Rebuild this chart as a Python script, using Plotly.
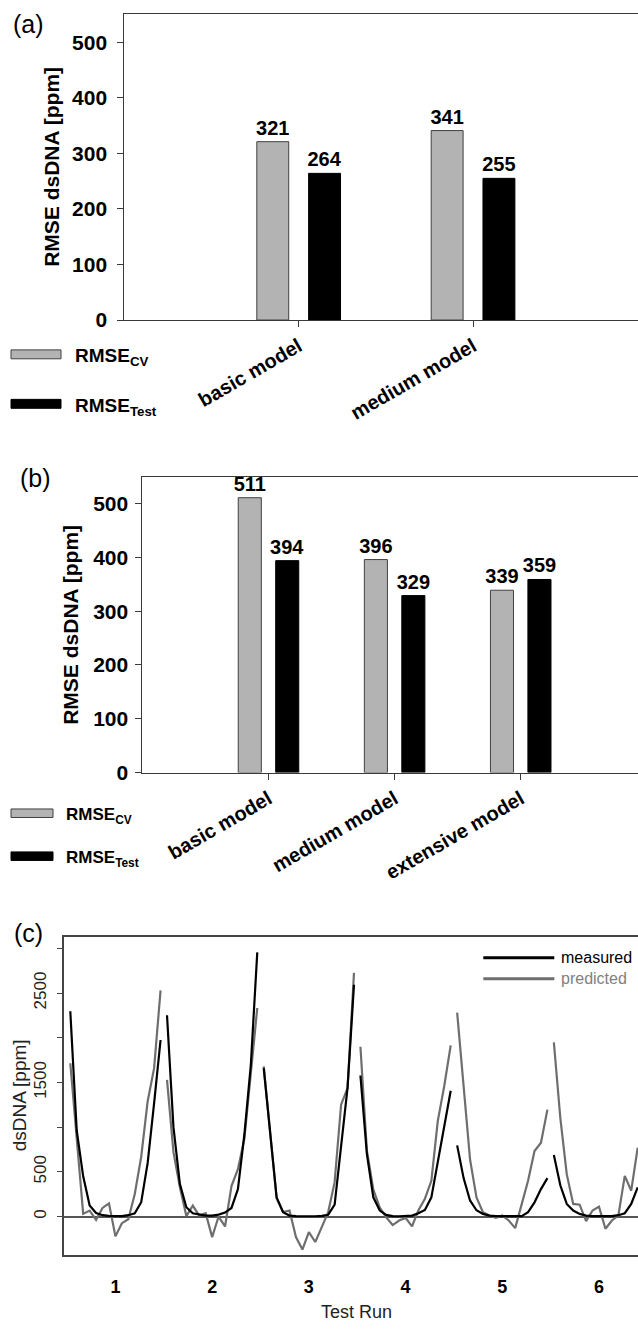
import plotly.graph_objects as go

W, H = 638, 1332
FONT = "Liberation Sans, Arial, sans-serif"

# ---------------- data ----------------
# Panel (a)
a_models = ["basic model", "medium model"]
a_cv = [321, 341]
a_test = [264, 255]

# Panel (b)
b_models = ["basic model", "medium model", "extensive model"]
b_cv = [511, 396, 339]
b_test = [394, 329, 359]

# Panel (c)  (15 samples per test run; run 6 cropped at the right edge)
run_labels = ["1", "2", "3", "4", "5", "6"]
points_per_run = 15
measured_runs = [
    [2296, 960, 450, 125, 40, 15, 8, 5, 5, 15, 37, 160, 600, 1270, 1975],
    [2252, 1000, 363, 104, 37, 22, 11, 11, 22, 44, 96, 307, 918, 1696, 2956],
    [1660, 950, 215, 48, 11, 5, 3, 3, 3, 8, 20, 133, 780, 1440, 2593],
    [1578, 700, 215, 67, 18, 5, 3, 3, 10, 37, 74, 215, 600, 1000, 1407],
    [796, 430, 180, 70, 30, 10, 5, 3, 3, 3, 5, 50, 159, 307, 430],
    [689, 350, 141, 67, 30, 11, 5, 3, 3, 5, 15, 37, 141, 326],
]
predicted_runs = [
    [1715, 911, 30, 67, -37, 96, 148, -222, -74, -30, 252, 670, 1290, 1660, 2530],
    [1530, 720, 326, 5, 122, 11, 37, -230, 0, -111, 340, 530, 870, 1570, 2333],
    [1680, 960, 203, 50, 67, -230, -370, -174, -285, -118, 50, 385, 1252, 1437, 2726],
    [1900, 740, 300, 100, -10, -95, -45, -15, -111, 70, 200, 400, 1070, 1460, 1915],
    [2281, 1450, 640, 215, 48, 11, -15, 11, -44, -130, 150, 400, 733, 826, 1196],
    [1948, 1104, 474, 141, 133, -52, 67, 111, -137, -44, 11, 455, 289, 770],
]
c_labelled_ticks = [0, 500, 1500, 2500]
c_unlabelled_ticks = [1000, 2000, 3000]

CV_COLOR = "#b3b3b3"
TEST_COLOR = "#000000"
AX = "#3a3a3a"


def px(x):
    return x / W


def py(y):
    return 1 - y / H


fig = go.Figure()

BAR_W = 0.183
OFF_CV = -0.240
OFF_TEST = 0.057


def add_bars(cats, vals, color, lc, offset, xa, ya):
    fig.add_trace(go.Bar(
        x=cats, y=vals, width=BAR_W, offset=offset,
        marker=dict(color=color, line=dict(color=lc, width=1)),
        text=[str(v) for v in vals], textposition="outside",
        textfont=dict(family=FONT, size=20, color="black", weight="bold"),
        constraintext="none", cliponaxis=False,
        xaxis=xa, yaxis=ya, showlegend=False, hoverinfo="skip"))


add_bars(a_models, a_cv, CV_COLOR, "#404040", OFF_CV, "x", "y")
add_bars(a_models, a_test, TEST_COLOR, "#000000", OFF_TEST, "x", "y")
add_bars(b_models, b_cv, CV_COLOR, "#404040", OFF_CV, "x2", "y2")
add_bars(b_models, b_test, TEST_COLOR, "#000000", OFF_TEST, "x2", "y2")

# panel (c) lines
cx, cm, cp = [], [], []
for r, (m, p) in enumerate(zip(measured_runs, predicted_runs)):
    for j, (mv, pv) in enumerate(zip(m, p)):
        cx.append(r * points_per_run + j + 1)
        cm.append(mv)
        cp.append(pv)
    cx.append(None)
    cm.append(None)
    cp.append(None)

fig.add_trace(go.Scatter(x=cx, y=cp, mode="lines", line=dict(color="#6e6e6e", width=2.2),
                         connectgaps=False, xaxis="x3", yaxis="y3", showlegend=False))
fig.add_trace(go.Scatter(x=cx, y=cm, mode="lines", line=dict(color="#000000", width=2.2),
                         connectgaps=False, xaxis="x3", yaxis="y3", showlegend=False))

c_xticks = [r * points_per_run + 8 for r in range(len(run_labels))]

bold20 = dict(family=FONT, size=20, color="black", weight="bold")
bold21 = dict(family=FONT, size=21, color="black", weight="bold")

fig.update_layout(
    width=W, height=H, autosize=False,
    margin=dict(l=0, r=0, t=0, b=0),
    paper_bgcolor="white", plot_bgcolor="white",
    barmode="overlay",
    font=dict(family=FONT, color="black"),
    xaxis=dict(domain=[px(124.3), 1], type="category", range=[-1, 1.946],
               showline=True, linecolor=AX, linewidth=1, mirror=True,
               ticks="outside", ticklen=6, tickcolor=AX, tickangle=-30,
               tickfont=bold20, showgrid=False, zeroline=False, anchor="y"),
    yaxis=dict(domain=[py(322.7), py(14)], range=[0, 551],
               showline=True, linecolor=AX, linewidth=1,
               ticks="outside", ticklen=6, tickcolor=AX,
               tickvals=[0, 100, 200, 300, 400, 500], tickfont=bold21,
               ticklabelstandoff=6,
               showgrid=False, zeroline=False, anchor="x"),
    xaxis2=dict(domain=[px(142.4), 1], type="category", range=[-1, 2.930],
                showline=True, linecolor=AX, linewidth=1, mirror=True,
                ticks="outside", ticklen=6, tickcolor=AX, tickangle=-30,
                tickfont=bold20, showgrid=False, zeroline=False, anchor="y2"),
    yaxis2=dict(domain=[py(779), py(480.7)], range=[0, 550],
                showline=True, linecolor=AX, linewidth=1,
                ticks="outside", ticklen=6, tickcolor=AX,
                tickvals=[0, 100, 200, 300, 400, 500], tickfont=bold21,
                ticklabelstandoff=3,
                showgrid=False, zeroline=False, anchor="x2"),
    xaxis3=dict(domain=[px(64.3), 1], range=[0.07, 89.05],
                showline=True, linecolor="#444444", linewidth=1.5, mirror=True,
                ticks="", tickvals=c_xticks, ticktext=run_labels,
                tickfont=dict(family=FONT, size=18, color="black", weight="bold"),
                ticklabelstandoff=14,
                showgrid=False, zeroline=False, anchor="y3"),
    yaxis3=dict(domain=[py(1265.7), py(944.3)], range=[-433, 3133],
                showline=True, linecolor="#444444", linewidth=1.5,
                ticks="outside", ticklen=6, tickcolor="#444444",
                tickvals=c_labelled_ticks, tickangle=-90,
                minor=dict(tickvals=c_unlabelled_ticks, ticks="outside", ticklen=6,
                           tickcolor="#444444", showgrid=False),
                tickfont=dict(family=FONT, size=17, color="#222222"),
                ticklabelstandoff=4,
                showgrid=False, zeroline=True, zerolinecolor="#555555", zerolinewidth=1.5,
                anchor="x3"),
)

ann = []
shapes = []

# panel labels
for t, x, y in [("(a)", 28, 24), ("(b)", 35, 482), ("(c)", 28, 941)]:
    ann.append(dict(text=t, x=px(x), y=py(y), xref="paper", yref="paper",
                    xanchor="center", yanchor="middle", showarrow=False,
                    font=dict(family=FONT, size=25, color="black")))

# y titles
ann.append(dict(text="RMSE dsDNA [ppm]", x=px(50.7), y=py(168.5), xref="paper", yref="paper",
                textangle=-90, showarrow=False, xanchor="center", yanchor="middle",
                font=bold21))
ann.append(dict(text="RMSE dsDNA [ppm]", x=px(71), y=py(630), xref="paper", yref="paper",
                textangle=-90, showarrow=False, xanchor="center", yanchor="middle",
                font=bold21))
ann.append(dict(text="dsDNA [ppm]", x=px(19.5), y=py(1105), xref="paper", yref="paper",
                textangle=-90, showarrow=False, xanchor="center", yanchor="middle",
                font=dict(family=FONT, size=19, color="#222222")))
ann.append(dict(text="Test Run", x=px(356), y=py(1323), xref="paper", yref="paper",
                showarrow=False, xanchor="center", yanchor="middle",
                font=dict(family=FONT, size=18, color="#222222")))

# bar legends (a) and (b)
def bar_legend(x0, x1, y_cv, y_test, h, tx, fs):
    for yc, col, lc, lab in [(y_cv, CV_COLOR, "#404040", "RMSE<sub>CV</sub>"),
                             (y_test, TEST_COLOR, "#000000", "RMSE<sub>Test</sub>")]:
        shapes.append(dict(type="rect", xref="paper", yref="paper",
                           x0=px(x0), x1=px(x1), y0=py(yc + h / 2), y1=py(yc - h / 2),
                           fillcolor=col, line=dict(color=lc, width=1)))
        ann.append(dict(text=lab, x=px(tx), y=py(yc + 3), xref="paper", yref="paper",
                        showarrow=False, xanchor="left", yanchor="middle",
                        font=dict(family=FONT, size=fs, color="black", weight="bold")))


bar_legend(11, 61, 357.3, 407.2, 9, 73, 19)
bar_legend(11, 53, 820, 863.3, 8.6, 64, 17)

# line legend (c)
for yc, col, lab in [(965.7, "#000000", "measured"), (987, "#808080", "predicted")]:
    shapes.append(dict(type="line", xref="paper", yref="paper",
                       x0=px(483.3), x1=px(554.3), y0=py(yc), y1=py(yc),
                       line=dict(color="#000000" if lab == "measured" else "#6e6e6e", width=3)))
    ann.append(dict(text=lab, x=px(559), y=py(yc), xref="paper", yref="paper",
                    showarrow=False, xanchor="left", yanchor="middle",
                    font=dict(family=FONT, size=16, color=col)))

fig.update_layout(annotations=ann, shapes=shapes)

fig.write_html("out.html")
